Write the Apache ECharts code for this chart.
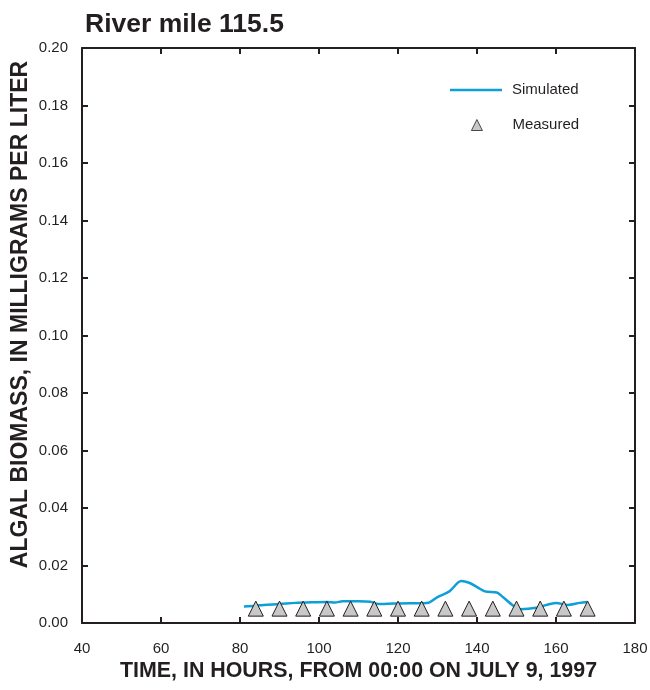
<!DOCTYPE html>
<html>
<head>
<meta charset="utf-8">
<script src="https://cdn.jsdelivr.net/npm/echarts@6/dist/echarts.min.js"></script>
<style>html,body{margin:0;padding:0;background:#fff}#c{width:650px;height:690px}</style>
</head>
<body>
<div id="c"></div>
<script>
var titleText = 'River mile 115.5';
var xAxisName = 'TIME, IN HOURS, FROM 00:00 ON JULY 9, 1997';
var yAxisName = 'ALGAL BIOMASS, IN MILLIGRAMS PER LITER';
var seriesNames = ['Simulated', 'Measured'];

var simTime  = [81, 84, 86, 90, 94, 98, 102, 104, 106, 110, 113, 115, 119, 123, 126, 128, 130, 133, 136, 138, 140, 142, 145, 146, 149, 151, 155, 160, 163, 166, 168];
var simValue = [0.0057, 0.0060, 0.0063, 0.0066, 0.0070, 0.0072, 0.0073, 0.0071, 0.0076, 0.0076, 0.0074, 0.0066, 0.0068, 0.0069, 0.0069, 0.0072, 0.0090, 0.0110, 0.0146, 0.0140, 0.0125, 0.0110, 0.0106, 0.0097, 0.0062, 0.0048, 0.0053, 0.0070, 0.0063, 0.0070, 0.0073];

var measTime  = [84, 90, 96, 102, 108, 114, 120, 126, 132, 138, 144, 150, 156, 162, 168];
var measValue = [0.005, 0.005, 0.005, 0.005, 0.005, 0.005, 0.005, 0.005, 0.005, 0.005, 0.005, 0.005, 0.005, 0.005, 0.005];

function pairs(a, b) { return a.map(function (v, i) { return [v, b[i]]; }); }

var FONT = '"Liberation Sans", Arial, Helvetica, sans-serif';
var INK = '#231f20';
var LINE_COLOR = '#0e9fd8';

var chart = echarts.init(document.getElementById('c'), null, { renderer: 'canvas' });
var lineStyleAxis = { color: INK, width: 2 };
var legendText = { fontFamily: FONT, fontSize: 15, color: INK, lineHeight: 18 };
chart.setOption({
  animation: false,
  backgroundColor: '#fff',
  title: {
    text: titleText, left: 80, top: 6,
    textStyle: { fontFamily: FONT, fontSize: 26.5, fontWeight: 'bold', color: INK }
  },
  legend: [{
    data: [{ name: seriesNames[0], icon: 'path://M0,0 L52,0 L52,2.5 L0,2.5 Z', itemStyle: { color: LINE_COLOR } }],
    orient: 'vertical', left: 450, top: 81, padding: 0,
    itemWidth: 52, itemHeight: 11,
    textStyle: Object.assign({ padding: [0, 0, 0, 5] }, legendText)
  }, {
    data: [{ name: seriesNames[1], icon: 'triangle', itemStyle: { borderWidth: 0.8 } }],
    orient: 'vertical', left: 471, top: 116, padding: 0,
    itemWidth: 11, itemHeight: 11,
    textStyle: Object.assign({ padding: [0, 0, 0, 25] }, legendText)
  }],
  grid: { left: 82, right: 15, top: 48, bottom: 67, containLabel: false, outerBoundsMode: 'none' },
  xAxis: [{
    type: 'value', min: 40, max: 180, interval: 20,
    name: xAxisName, nameLocation: 'middle', nameGap: 38, nameMoveOverlap: false,
    nameTextStyle: { fontFamily: FONT, fontSize: 21.4, fontWeight: 'bold', color: INK },
    axisLine: { show: true, onZero: false, lineStyle: lineStyleAxis },
    axisTick: { show: true, inside: true, length: 6, lineStyle: lineStyleAxis },
    axisLabel: { fontFamily: FONT, fontSize: 15, color: INK, margin: 18 },
    splitLine: { show: false }
  }, {
    type: 'value', position: 'top', min: 40, max: 180, interval: 20,
    axisLine: { show: true, onZero: false, lineStyle: lineStyleAxis },
    axisTick: { show: true, inside: true, length: 6, lineStyle: lineStyleAxis },
    axisLabel: { show: false }, splitLine: { show: false }
  }],
  yAxis: [{
    type: 'value', min: 0, max: 0.2, interval: 0.02,
    name: yAxisName, nameLocation: 'middle', nameGap: 50, nameMoveOverlap: false,
    nameTextStyle: { fontFamily: FONT, fontSize: 23, fontWeight: 'bold', color: INK, padding: [0, 0, 0, 42] },
    axisLine: { show: true, onZero: false, lineStyle: lineStyleAxis },
    axisTick: { show: true, inside: true, length: 6, lineStyle: lineStyleAxis },
    axisLabel: { fontFamily: FONT, fontSize: 15, color: INK, margin: 14, formatter: function (v) { return v.toFixed(2); } },
    splitLine: { show: false }
  }, {
    type: 'value', position: 'right', min: 0, max: 0.2, interval: 0.02,
    axisLine: { show: true, onZero: false, lineStyle: lineStyleAxis },
    axisTick: { show: true, inside: true, length: 6, lineStyle: lineStyleAxis },
    axisLabel: { show: false }, splitLine: { show: false }
  }],
  series: [{
    name: seriesNames[0], type: 'line', xAxisIndex: 0, yAxisIndex: 0,
    data: pairs(simTime, simValue), symbol: 'none', smooth: 0.3,
    lineStyle: { color: LINE_COLOR, width: 2.5 }, itemStyle: { color: LINE_COLOR }, z: 2
  }, {
    name: seriesNames[1], type: 'scatter', xAxisIndex: 0, yAxisIndex: 0,
    data: pairs(measTime, measValue), symbol: 'triangle', symbolSize: 15,
    itemStyle: { color: '#c8c8c8', borderColor: INK, borderWidth: 1, opacity: 1 }, z: 3
  }]
});
</script>
</body>
</html>
